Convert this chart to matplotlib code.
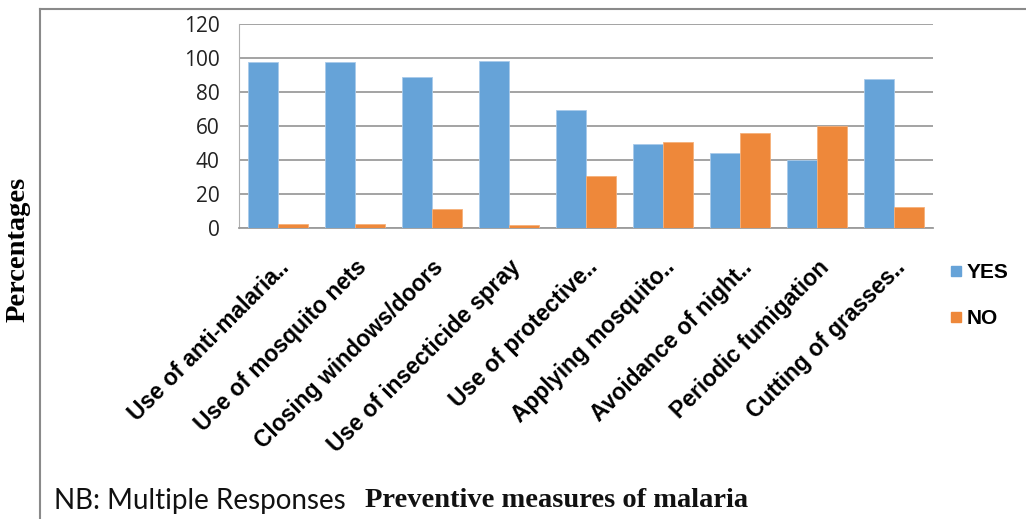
import matplotlib.pyplot as plt
from matplotlib.lines import Line2D
import numpy as np

measures = ["Use of anti-malaria..", "Use of mosquito nets", "Closing windows/doors",
            "Use of insecticide spray", "Use of protective..", "Applying mosquito..",
            "Avoidance of night..", "Periodic fumigation", "Cutting of grasses.."]
yes_pct = [97.5, 97.5, 89, 98.2, 69.5, 49.4, 44, 40, 87.5]
no_pct = [2.5, 2.5, 11, 1.8, 30.5, 50.6, 56, 60, 12.5]
yticks = [0, 20, 40, 60, 80, 100, 120]

blue = '#66a3d8'
orange = '#ee883a'

fig = plt.figure(figsize=(10.26, 5.19), dpi=100)
ax = fig.add_axes([0.233, 0.561, 0.676, 0.393])

x = np.arange(len(measures))
w = 0.39
ax.bar(x - w/2, yes_pct, w, color=blue, edgecolor='#a9cbea', linewidth=0.6, label='YES', zorder=3)
ax.bar(x + w/2, no_pct, w, color=orange, edgecolor='#f5b07a', linewidth=0.6, label='NO', zorder=3)

ax.set_xlim(-0.5, len(measures) - 0.5)
ax.set_ylim(0, 120)
ax.set_yticks(yticks)
ax.set_yticklabels([str(t) for t in yticks], fontsize=15, family='Open Sans', color='#222222')
ax.yaxis.grid(True, color='#9c9c9c', linewidth=1.3, zorder=0)
ax.tick_params(axis='both', length=0)
ax.tick_params(axis='y', pad=14)
for s in ['top', 'right']:
    ax.spines[s].set_visible(False)
ax.spines['left'].set_color('#b0b0b0')
ax.spines['bottom'].set_color('#9c9c9c')
ax.spines['bottom'].set_linewidth(1.3)

ax.set_xticks(x)
ax.set_xticklabels(measures, rotation=45, ha='right', rotation_mode='anchor',
                   fontsize=16.5, fontweight='bold', family='Liberation Sans')
ax.tick_params(axis='x', pad=20)

handles = [Line2D([], [], marker='s', linestyle='', color=blue, markersize=6.5),
           Line2D([], [], marker='s', linestyle='', color=orange, markersize=6.5)]
fig.legend(handles, ['YES', 'NO'], loc='center left', bbox_to_anchor=(0.926, 0.43),
           frameon=False, handlelength=0.6, handletextpad=0.2, labelspacing=1.3,
           borderaxespad=0, borderpad=0,
           prop={'family': 'Liberation Sans', 'weight': 'bold', 'size': 15})

fig.text(0.018, 0.52, 'Percentages', rotation=90, ha='center', va='center',
         fontsize=20.5, fontweight='bold', family='Liberation Serif')
fig.text(0.053, 0.035, 'NB: Multiple Responses', ha='left', va='center',
         fontsize=20, family='Lato', color='#111111')
fig.text(0.356, 0.035, 'Preventive measures of malaria', ha='left', va='center',
         fontsize=20.5, fontweight='bold', family='Liberation Serif', color='#111111')

# outer frame lines
fig.add_artist(Line2D([0.039, 1.0], [0.983, 0.983], color='#8a8a8a', linewidth=1.5))
fig.add_artist(Line2D([0.039, 0.039], [0.0, 0.983], color='#8a8a8a', linewidth=1.5))

fig.savefig('out.png', dpi=100)
